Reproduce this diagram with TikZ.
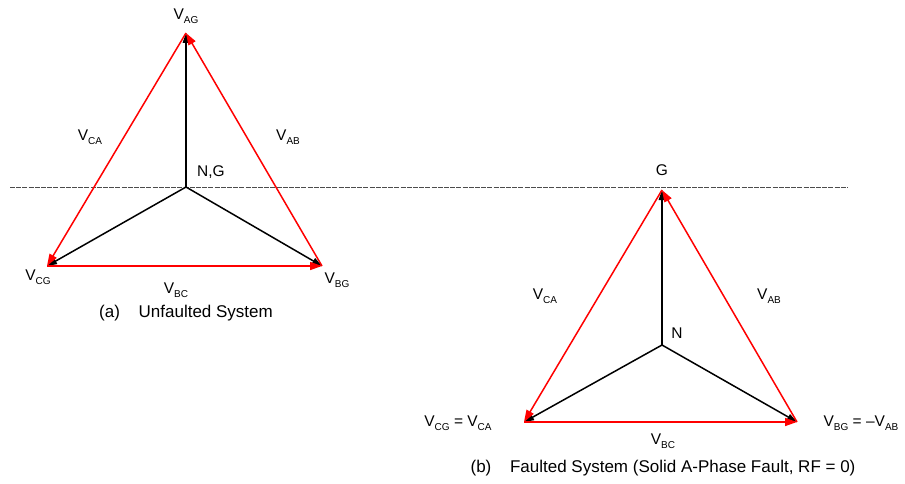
\documentclass[tikz,border=0pt]{standalone}
\usepackage{fontspec}
\setmainfont{Liberation Sans}
\usetikzlibrary{arrows.meta}
\newcommand\Vsub[1]{V\raisebox{-0.45ex}{\fontsize{10}{10}\selectfont #1}}
\tikzset{
  redvec/.style={draw=red, line width=1.5pt, -{Triangle[length=12pt,width=8pt]}},
  blackvec/.style={draw=black, line width=1.5pt, -{Triangle[length=10pt,width=6.5pt]}},
  lbl/.style={inner sep=0pt, font=\fontsize{15.5}{15.5}\selectfont},
  captiontext/.style={inner sep=0pt, font=\fontsize{17}{17}\selectfont},
  gline/.style={draw=black!70, line width=1pt, dash pattern=on 5pt off 1.2pt}
}
\begin{document}
\begin{tikzpicture}[x=1pt,y=-1pt]
\useasboundingbox (0,0) rectangle (905,484);
% dashed reference line
\coordinate (L1) at (10,187);
\coordinate (L2) at (848,187);
\draw[gline] (L1) -- (L2);
% (a) unfaulted
\coordinate (aA) at (186,33);
\coordinate (aN) at (186,187);
\coordinate (aC) at (47,266);
\coordinate (aB) at (322,266);
\draw[blackvec] (aN) -- (aA);
\draw[blackvec] (aN) -- (aC);
\draw[blackvec] (aN) -- (aB);
\draw[redvec] (aB) -- (aA);
\draw[redvec] (aA) -- (aC);
\draw[redvec] (aC) -- (aB);
\node[lbl] (tAG) at (186,16) {\Vsub{AG}};
\node[lbl] (tCAa) at (90,137) {\Vsub{CA}};
\node[lbl] (tABa) at (288,137) {\Vsub{AB}};
\node[lbl] (tNG) at (211,172) {N,G};
\node[lbl] (tCG) at (38,277) {\Vsub{CG}};
\node[lbl] (tBCa) at (176,290) {\Vsub{BC}};
\node[lbl] (tBG) at (337,280) {\Vsub{BG}};
\node[captiontext] (capa) at (186,313) {(a)\hspace{1.1em}Unfaulted System};
% (b) faulted
\coordinate (bA) at (662,190);
\coordinate (bN) at (662,345);
\coordinate (bC) at (524,422);
\coordinate (bB) at (797,422);
\draw[blackvec] (bN) -- (bA);
\draw[blackvec] (bN) -- (bC);
\draw[blackvec] (bN) -- (bB);
\draw[redvec] (bB) -- (bA);
\draw[redvec] (bA) -- (bC);
\draw[redvec] (bC) -- (bB);
\node[lbl] (tG) at (662,170) {G};
\node[lbl] (tCAb) at (545,296) {\Vsub{CA}};
\node[lbl] (tABb) at (769,296) {\Vsub{AB}};
\node[lbl] (tN) at (677,333) {N};
\node[lbl] (tCGb) at (458,423) {\Vsub{CG} = \Vsub{CA}};
\node[lbl] (tBCb) at (663,441) {\Vsub{BC}};
\node[lbl] (tBGb) at (861,423) {\Vsub{BG} = –\Vsub{AB}};
\node[captiontext] (capb) at (663,468) {(b)\hspace{1.1em}Faulted System (Solid A-Phase Fault, RF = 0)};
\end{tikzpicture}
\end{document}
